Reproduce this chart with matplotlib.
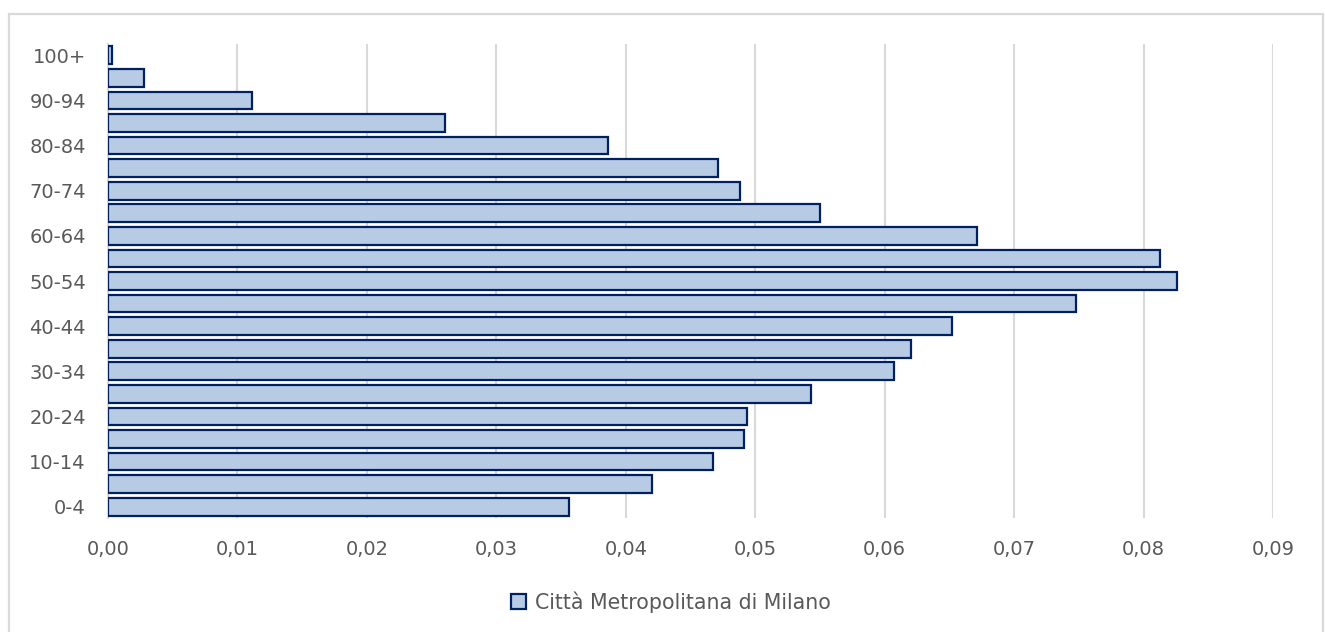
import matplotlib.pyplot as plt
from matplotlib.patches import Rectangle
from matplotlib.ticker import FuncFormatter

# classi di età (dal basso verso l'alto)
age_groups = [
    "0-4", "5-9", "10-14", "15-19", "20-24", "25-29", "30-34", "35-39",
    "40-44", "45-49", "50-54", "55-59", "60-64", "65-69", "70-74",
    "75-79", "80-84", "85-89", "90-94", "95-99", "100+",
]
share_milano = [
    0.0356, 0.0420, 0.0467, 0.0491, 0.0494, 0.0543, 0.0607, 0.0620,
    0.0652, 0.0748, 0.0826, 0.0813, 0.0671, 0.0550, 0.0488,
    0.0471, 0.0386, 0.0260, 0.0111, 0.0028, 0.0003,
]
series_name = "Città Metropolitana di Milano"
x_ticks = [0.00, 0.01, 0.02, 0.03, 0.04, 0.05, 0.06, 0.07, 0.08, 0.09]

TEXT_COLOR = "#595959"
GRID_COLOR = "#D9D9D9"
FACE_COLOR = "#B7CBE5"
EDGE_COLOR = "#002060"

plt.rcParams["font.family"] = ["DejaVu Sans"]

fig = plt.figure(figsize=(13.25, 6.32), dpi=100)
ax = fig.add_axes((108 / 1325, 1 - 518 / 632, (1273 - 108) / 1325, (518 - 44) / 632))

# cornice esterna del grafico
fig.patches.append(
    Rectangle((9 / 1325, -0.1), (1323 - 9) / 1325, 1.1 - 14 / 632,
              transform=fig.transFigure, fill=False, edgecolor=GRID_COLOR, linewidth=1.6)
)

pos = list(range(len(age_groups)))
ax.barh(pos, share_milano, height=0.79, color=FACE_COLOR, edgecolor=EDGE_COLOR,
        linewidth=1.6, label=series_name, zorder=3)

ax.set_xlim(0, 0.09)
ax.set_ylim(-0.5, len(age_groups) - 0.5)
ax.set_xticks(x_ticks)
ax.xaxis.set_major_formatter(FuncFormatter(lambda v, _: f"{v:.2f}".replace(".", ",")))
ax.set_yticks(pos[::2])
ax.set_yticklabels(age_groups[::2])

ax.grid(axis="x", color=GRID_COLOR, linewidth=1.5, zorder=0)
for side in ["top", "right", "bottom"]:
    ax.spines[side].set_visible(False)
ax.spines["left"].set_color(GRID_COLOR)
ax.spines["left"].set_linewidth(1.5)
ax.tick_params(axis="both", length=0, labelsize=14, colors=TEXT_COLOR)
ax.tick_params(axis="x", pad=16)
ax.tick_params(axis="y", pad=16)

ax.legend(loc="center", bbox_to_anchor=(0.483, -0.178), frameon=False, fontsize=14.8,
          labelcolor=TEXT_COLOR, handlelength=0.75, handleheight=0.75, handletextpad=0.4)

fig.savefig("out.png", dpi=100)
